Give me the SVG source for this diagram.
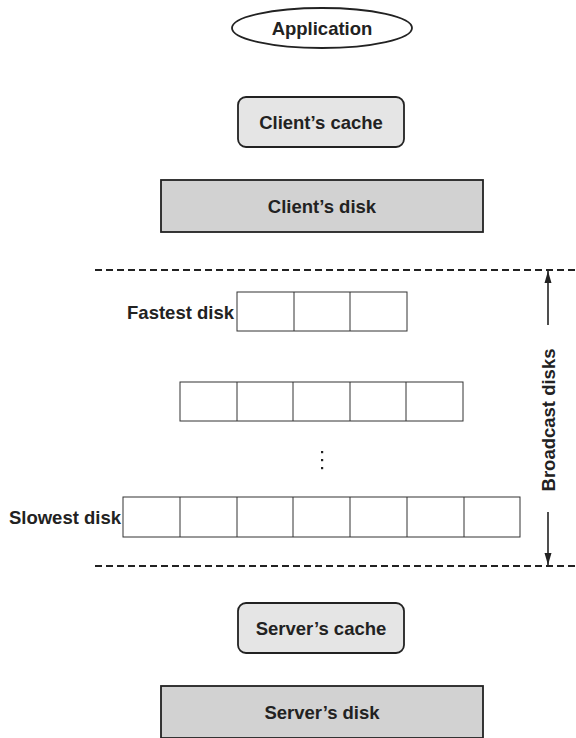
<svg xmlns="http://www.w3.org/2000/svg" width="576" height="738" viewBox="0 0 576 738">
<defs>
<style>
text{font-family:"Liberation Sans","DejaVu Sans",sans-serif;font-weight:bold;font-size:18.5px;fill:#222;}
.c{text-anchor:middle;}
.r{text-anchor:end;}
.cache{fill:#e5e5e5;stroke:#222;stroke-width:1.8;}
.disk{fill:#d2d2d2;stroke:#222;stroke-width:1.8;}
.cell{fill:#fff;stroke:#333;stroke-width:1;}
.dash{stroke:#222;stroke-width:2;stroke-dasharray:7,4;fill:none;}
.arr{stroke:#222;stroke-width:1.6;fill:none;marker-end:url(#ah);}
</style>
<marker id="ah" viewBox="0 0 12 8" refX="12" refY="4" markerWidth="12" markerHeight="8" markerUnits="userSpaceOnUse" orient="auto"><path d="M0,0.5 L12,4 L0,7.5 z" fill="#222"/></marker>
</defs>
<rect width="576" height="738" fill="#fff"/>
<g id="application">
<ellipse cx="322" cy="28" rx="90" ry="20" fill="#fff" stroke="#222" stroke-width="1.8"/>
<text x="322" y="34.5" class="c">Application</text>
</g>
<g id="client-cache">
<rect x="238" y="97" width="166" height="50" rx="8" class="cache"/>
<text x="321" y="128.5" class="c">Client’s cache</text>
</g>
<g id="client-disk">
<rect x="161" y="180" width="322" height="52" class="disk"/>
<text x="322" y="212.5" class="c">Client’s disk</text>
</g>
<g id="fastest-disk">
<text x="234" y="319" class="r">Fastest disk</text>
<rect x="237" y="292" width="170" height="39" class="cell"/>
<path d="M294,292V331M350,292V331" stroke="#333" stroke-width="1"/>
</g>
<g id="middle-disk">
<rect x="180" y="382" width="283" height="39" class="cell"/>
<path d="M237,382V421M293,382V421M350,382V421M406,382V421" stroke="#333" stroke-width="1"/>
</g>
<g id="dots">
<rect x="321" y="451" width="2.2" height="2.2" fill="#222"/>
<rect x="321" y="459" width="2.2" height="2.2" fill="#222"/>
<rect x="321" y="467" width="2.2" height="2.2" fill="#222"/>
</g>
<g id="slowest-disk">
<text x="121" y="523.5" class="r">Slowest disk</text>
<rect x="123" y="497" width="397" height="40" class="cell"/>
<path d="M180,497V537M237,497V537M293,497V537M350,497V537M407,497V537M464,497V537" stroke="#333" stroke-width="1"/>
</g>
<g id="server-cache">
<rect x="238" y="603" width="166" height="50" rx="8" class="cache"/>
<text x="321" y="634.5" class="c">Server’s cache</text>
</g>
<g id="server-disk">
<rect x="161" y="686" width="322" height="52" class="disk"/>
<text x="322" y="718.5" class="c">Server’s disk</text>
</g>
<g id="broadcast-label">
<text transform="translate(555,420) rotate(-90)" class="c">Broadcast disks</text>
</g>
<g id="connectors">
<path d="M95,270H576" class="dash"/>
<path d="M95,566H576" class="dash"/>
<path d="M548,325V271" class="arr"/>
<path d="M548,512V565" class="arr"/>
</g>
</svg>
